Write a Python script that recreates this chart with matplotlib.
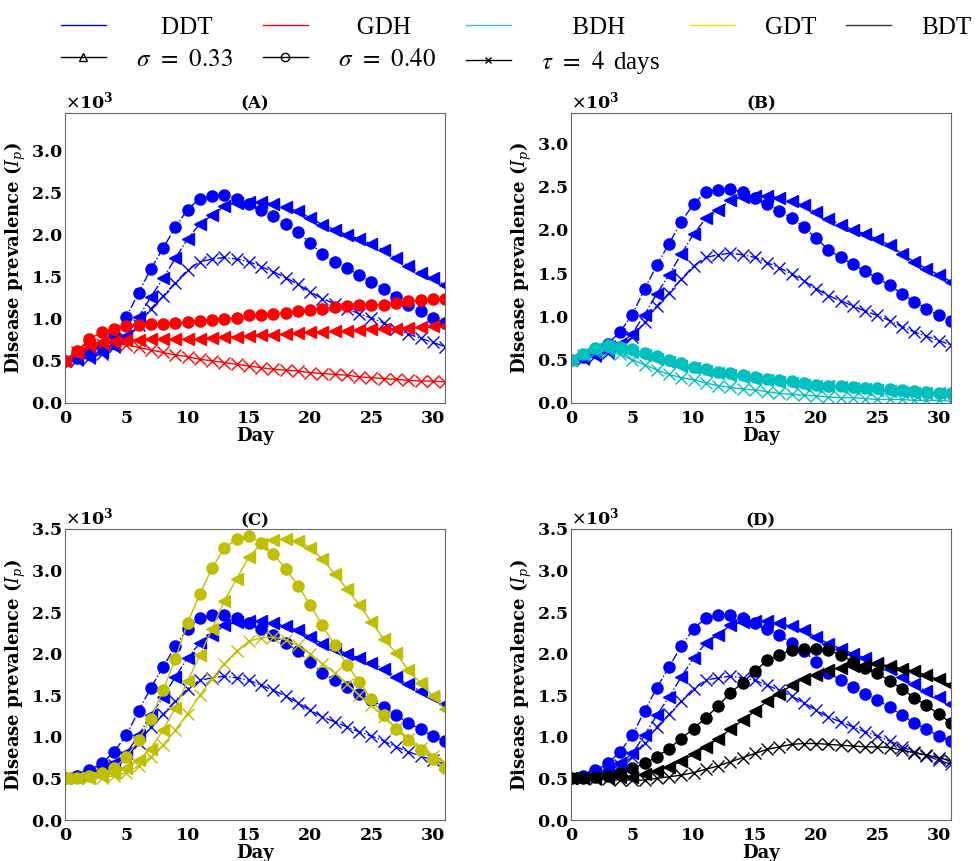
import numpy as np
import matplotlib.pyplot as plt
from matplotlib.lines import Line2D

plt.rcParams['font.family'] = 'DejaVu Serif'

dias = np.arange(32)

# prevalencia en miles de personas, una lista por escenario
ddt_s33 = [0.50, 0.52, 0.55, 0.60, 0.68, 0.80, 1.02, 1.26, 1.48, 1.72, 1.95, 2.13, 2.23, 2.34, 2.38, 2.39,
           2.39, 2.37, 2.33, 2.28, 2.20, 2.12, 2.06, 2.00, 1.95, 1.89, 1.82, 1.72, 1.63, 1.55, 1.48, 1.40]
ddt_s40 = [0.50, 0.53, 0.60, 0.68, 0.82, 1.02, 1.31, 1.59, 1.84, 2.09, 2.30, 2.43, 2.46, 2.47, 2.43, 2.37,
           2.30, 2.22, 2.13, 2.03, 1.90, 1.77, 1.68, 1.60, 1.52, 1.44, 1.36, 1.26, 1.17, 1.09, 1.01, 0.95]
ddt_tau = [0.50, 0.51, 0.54, 0.58, 0.66, 0.76, 0.93, 1.12, 1.27, 1.43, 1.58, 1.68, 1.71, 1.73, 1.71, 1.68,
           1.62, 1.56, 1.49, 1.41, 1.32, 1.24, 1.18, 1.12, 1.06, 1.01, 0.95, 0.88, 0.82, 0.77, 0.72, 0.67]

gdh_s33 = [0.50, 0.59, 0.69, 0.73, 0.74, 0.75, 0.75, 0.76, 0.76, 0.76, 0.76, 0.76, 0.77, 0.78, 0.79, 0.80,
           0.81, 0.81, 0.82, 0.83, 0.84, 0.84, 0.85, 0.86, 0.87, 0.88, 0.88, 0.88, 0.89, 0.90, 0.91, 0.92]
gdh_s40 = [0.50, 0.62, 0.76, 0.84, 0.88, 0.91, 0.93, 0.94, 0.94, 0.95, 0.96, 0.98, 0.99, 1.00, 1.01, 1.04,
           1.05, 1.06, 1.07, 1.09, 1.11, 1.12, 1.14, 1.15, 1.16, 1.17, 1.17, 1.19, 1.21, 1.22, 1.24, 1.24]
gdh_tau = [0.50, 0.60, 0.67, 0.70, 0.71, 0.69, 0.66, 0.63, 0.60, 0.57, 0.55, 0.52, 0.50, 0.48, 0.46, 0.44,
           0.42, 0.40, 0.39, 0.38, 0.36, 0.35, 0.34, 0.33, 0.31, 0.30, 0.29, 0.28, 0.27, 0.26, 0.26, 0.25]

bdh_s33 = [0.50, 0.56, 0.62, 0.64, 0.62, 0.59, 0.55, 0.51, 0.47, 0.43, 0.40, 0.37, 0.34, 0.32, 0.30, 0.28,
           0.26, 0.24, 0.23, 0.21, 0.20, 0.19, 0.18, 0.17, 0.16, 0.15, 0.14, 0.13, 0.12, 0.12, 0.11, 0.10]
bdh_s40 = [0.50, 0.57, 0.64, 0.67, 0.65, 0.62, 0.58, 0.54, 0.50, 0.46, 0.42, 0.39, 0.36, 0.34, 0.32, 0.30,
           0.28, 0.26, 0.25, 0.23, 0.21, 0.20, 0.19, 0.18, 0.17, 0.17, 0.16, 0.15, 0.14, 0.13, 0.12, 0.11]
bdh_tau = [0.50, 0.55, 0.59, 0.60, 0.56, 0.50, 0.44, 0.38, 0.33, 0.29, 0.27, 0.23, 0.20, 0.18, 0.16, 0.15,
           0.13, 0.11, 0.10, 0.09, 0.08, 0.07, 0.06, 0.06, 0.05, 0.04, 0.04, 0.04, 0.03, 0.03, 0.03, 0.02]

gdt_s33 = [0.50, 0.50, 0.51, 0.53, 0.56, 0.62, 0.72, 0.86, 1.08, 1.35, 1.67, 1.98, 2.30, 2.64, 2.90, 3.16,
           3.32, 3.37, 3.38, 3.36, 3.27, 3.14, 2.96, 2.78, 2.59, 2.38, 2.18, 2.01, 1.80, 1.65, 1.49, 1.33]
gdt_s40 = [0.50, 0.51, 0.53, 0.56, 0.62, 0.76, 0.96, 1.22, 1.56, 1.94, 2.37, 2.72, 3.03, 3.27, 3.38, 3.42,
           3.33, 3.20, 3.02, 2.82, 2.59, 2.34, 2.10, 1.87, 1.66, 1.45, 1.26, 1.10, 0.96, 0.84, 0.73, 0.63]
gdt_tau = [0.50, 0.50, 0.50, 0.51, 0.53, 0.57, 0.65, 0.76, 0.90, 1.08, 1.28, 1.50, 1.70, 1.88, 2.03, 2.15,
           2.19, 2.20, 2.17, 2.10, 2.00, 1.88, 1.77, 1.64, 1.50, 1.38, 1.24, 1.11, 0.98, 0.87, 0.77, 0.69]

bdt_s33 = [0.50, 0.50, 0.50, 0.51, 0.52, 0.52, 0.55, 0.59, 0.64, 0.71, 0.79, 0.88, 0.98, 1.09, 1.20, 1.31,
           1.43, 1.52, 1.62, 1.70, 1.75, 1.80, 1.83, 1.85, 1.87, 1.88, 1.85, 1.82, 1.79, 1.74, 1.69, 1.62]
bdt_s40 = [0.50, 0.51, 0.52, 0.53, 0.56, 0.62, 0.68, 0.76, 0.86, 0.98, 1.10, 1.23, 1.37, 1.53, 1.65, 1.79,
           1.92, 1.98, 2.05, 2.06, 2.06, 2.04, 1.99, 1.90, 1.83, 1.77, 1.67, 1.58, 1.47, 1.38, 1.27, 1.17]
bdt_tau = [0.50, 0.50, 0.49, 0.49, 0.48, 0.48, 0.48, 0.50, 0.52, 0.54, 0.57, 0.61, 0.65, 0.70, 0.75, 0.80,
           0.85, 0.88, 0.91, 0.92, 0.92, 0.91, 0.90, 0.89, 0.88, 0.88, 0.87, 0.84, 0.81, 0.78, 0.75, 0.71]

ddt = [ddt_s33, ddt_s40, ddt_tau]
marcas = ['<', 'o', 'x']

paneles = [('(A)', [gdh_s33, gdh_s40, gdh_tau], 'r', 3450),
           ('(B)', [bdh_s33, bdh_s40, bdh_tau], 'c', 3350),
           ('(C)', [gdt_s33, gdt_s40, gdt_tau], 'y', 3500),
           ('(D)', [bdt_s33, bdt_s40, bdt_tau], 'k', 3500)]
posiciones = [[0.0665, 0.532, 0.389, 0.337],
              [0.5844, 0.532, 0.389, 0.337],
              [0.0665, 0.0476, 0.389, 0.338],
              [0.5844, 0.0476, 0.389, 0.338]]

fig = plt.figure(figsize=(9.77, 8.61), dpi=100)

for (letra, series, col, ytop), pos in zip(paneles, posiciones):
    ax = fig.add_axes(pos)
    for vals, mk in zip(ddt, marcas):
        ax.plot(dias, np.array(vals) * 1000, '-.', color='b', marker=mk, ms=8, lw=1, mew=1)
    for vals, mk in zip(series, marcas):
        ax.plot(dias, np.array(vals) * 1000, '-', color=col, marker=mk, ms=8, lw=1, mew=1)
    ax.set_xlim(0, 31)
    ax.set_ylim(0, ytop)
    ax.set_xticks(range(0, 31, 5))
    ax.set_yticks(np.arange(0, ytop + 1, 500))
    ax.ticklabel_format(axis='y', style='sci', scilimits=(3, 3), useMathText=True)
    ax.tick_params(axis='both', length=0, labelsize=12.5)
    ax.tick_params(axis='y', pad=2)
    ax.tick_params(axis='x', pad=5)
    plt.setp(ax.get_xticklabels() + ax.get_yticklabels(), fontweight='bold')
    ax.yaxis.get_offset_text().set_fontsize(12.5)
    ax.yaxis.get_offset_text().set_fontweight('bold')
    for s in ax.spines.values():
        s.set_color('0.4')
    ax.set_title(letra, fontsize=12, fontweight='bold', pad=1)
    ax.set_xlabel('Day', fontsize=13, fontweight='bold', labelpad=0)
    ax.set_ylabel(r'Disease prevalence ($\boldsymbol{I_p}$)', fontsize=13, fontweight='bold',
                  labelpad=2, math_fontfamily='dejavuserif')

# leyenda comun arriba
h_ddt = Line2D([], [], color='b', lw=1)
h_gdh = Line2D([], [], color='r', lw=1)
h_bdh = Line2D([], [], color='#3cb4f0', lw=1)
h_gdt = Line2D([], [], color='#f0e020', lw=1)
h_bdt = Line2D([], [], color='0.2', lw=1)
h_s33 = Line2D([], [], color='k', lw=1, marker='^', mfc='none', ms=6)
h_s40 = Line2D([], [], color='k', lw=1, marker='o', mfc='none', ms=6)
h_tau = Line2D([], [], color='k', lw=1, marker='x', ms=5)

manejadores = [h_ddt, h_s33, h_gdh, h_s40, h_bdh, h_tau, h_gdt, h_bdt]
etiquetas = ['    DDT', r'$\sigma\;\,=\;\,0.33$', '   GDH', r'$\sigma\;\,=\;\,0.40$', '     BDH',
             r'$\tau\;\,=\;\,4\,$ days', 'GDT', 'BDT']
fig.legend(manejadores, etiquetas, ncol=5, loc='upper left', bbox_to_anchor=(0.052, 0.993),
           frameon=False, borderaxespad=0, handlelength=1.8, handletextpad=1.2,
           columnspacing=1.2, labelspacing=0.4,
           prop={'family': 'Liberation Serif', 'size': 18, 'math_fontfamily': 'stix'})

plt.savefig('out.png', dpi=100)
